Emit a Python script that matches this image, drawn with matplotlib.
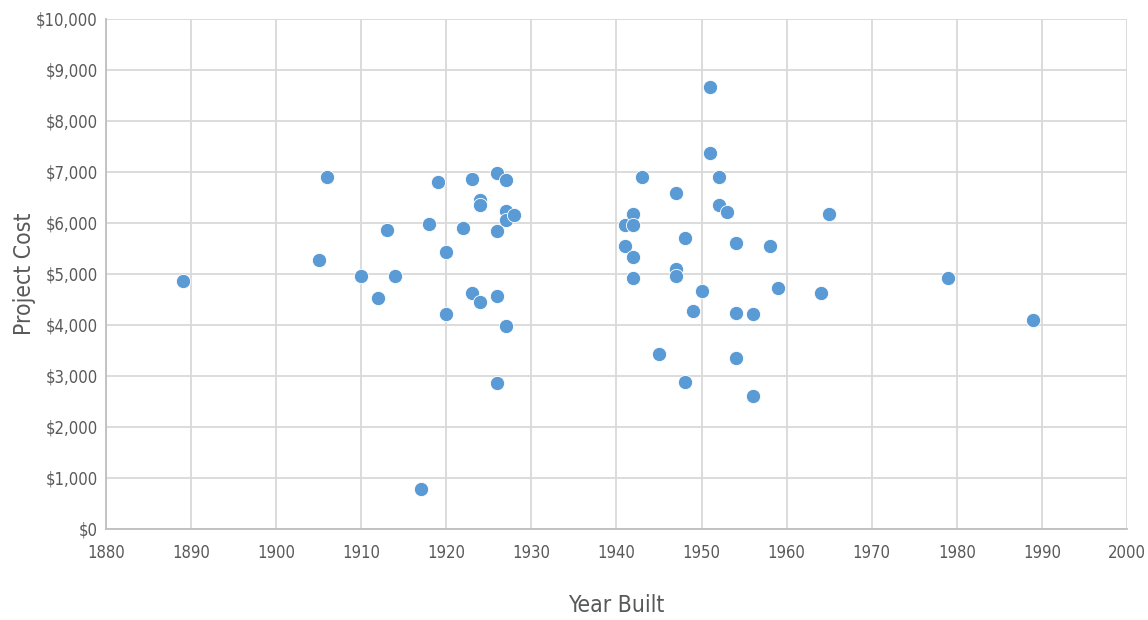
import matplotlib
matplotlib.use("Agg")
import matplotlib.pyplot as plt
import matplotlib.ticker as ticker
from matplotlib import font_manager

# Data
years = [1889, 1905, 1906, 1910, 1912, 1913, 1914, 1917, 1918, 1919,
         1920, 1920, 1922, 1923, 1923, 1924, 1924, 1924, 1926, 1926,
         1926, 1926, 1927, 1927, 1927, 1927, 1928, 1941, 1941, 1942,
         1942, 1942, 1942, 1943, 1945, 1947, 1947, 1947, 1948, 1948,
         1949, 1950, 1951, 1951, 1952, 1952, 1953, 1954, 1954, 1954,
         1956, 1956, 1958, 1959, 1964, 1965, 1979, 1989]
costs = [4860, 5270, 6900, 4960, 4530, 5870, 4960, 780, 5980, 6800,
         5440, 4210, 5910, 6870, 4630, 6460, 6360, 4450, 6980, 5850,
         4560, 2860, 6840, 6230, 6060, 3980, 6160, 5970, 5540, 6180,
         5970, 5330, 4930, 6900, 3440, 6590, 5100, 4970, 5700, 2880,
         4270, 4660, 8670, 7370, 6900, 6360, 6210, 5610, 4240, 3350,
         4210, 2600, 5540, 4730, 4620, 6180, 4920, 4100]

POINT = "#5B9BD5"
TEXT = "#595959"
GRID = "#D9D9D9"

# look for a narrow/condensed face, the reference uses a condensed font
family, stretch, narrow = "DejaVu Sans", "normal", False
for f in font_manager.fontManager.ttflist:
    st = str(f.stretch).lower()
    if ("narrow" in f.name.lower() or "condensed" in f.name.lower()
            or st in ("condensed", "semi-condensed", "extra-condensed", "ultra-condensed")
            or (st.isdigit() and int(st) < 500)):
        family, stretch, narrow = f.name, f.stretch, True
        break
plt.rcParams["font.family"] = [family, "DejaVu Sans"]
plt.rcParams["font.stretch"] = stretch

tick_size = 12 if narrow else 10.5
label_size = 16.5 if narrow else 15

fig = plt.figure(figsize=(11.48, 6.2), dpi=100)
ax = fig.add_axes([0.0923, 0.1468, 0.8894, 0.8226])

ax.scatter(years, costs, s=105, color=POINT, edgecolors="white", linewidths=0.6, zorder=3)

ax.set_xlim(1880, 2000)
ax.set_ylim(0, 10000)
ax.xaxis.set_major_locator(ticker.MultipleLocator(10))
ax.yaxis.set_major_locator(ticker.MultipleLocator(1000))
ax.yaxis.set_major_formatter(ticker.FuncFormatter(lambda v, p: f"${v:,.0f}"))

ax.grid(True, color=GRID, linewidth=1.3, zorder=0)
ax.set_axisbelow(True)
for name, spine in ax.spines.items():
    if name in ("left", "bottom"):
        spine.set_color("#BFBFBF")
        spine.set_linewidth(1.3)
    else:
        spine.set_visible(False)

ax.tick_params(axis="both", length=0, colors=TEXT, labelsize=tick_size)
ax.tick_params(axis="x", pad=11)
ax.tick_params(axis="y", pad=6)

ax.set_xlabel("Year Built", fontsize=label_size, color=TEXT, labelpad=23)
ax.set_ylabel("Project Cost", fontsize=label_size, color=TEXT)
ax.yaxis.set_label_coords(-0.069, 0.5)

fig.savefig("out.png", dpi=100, facecolor="white")
